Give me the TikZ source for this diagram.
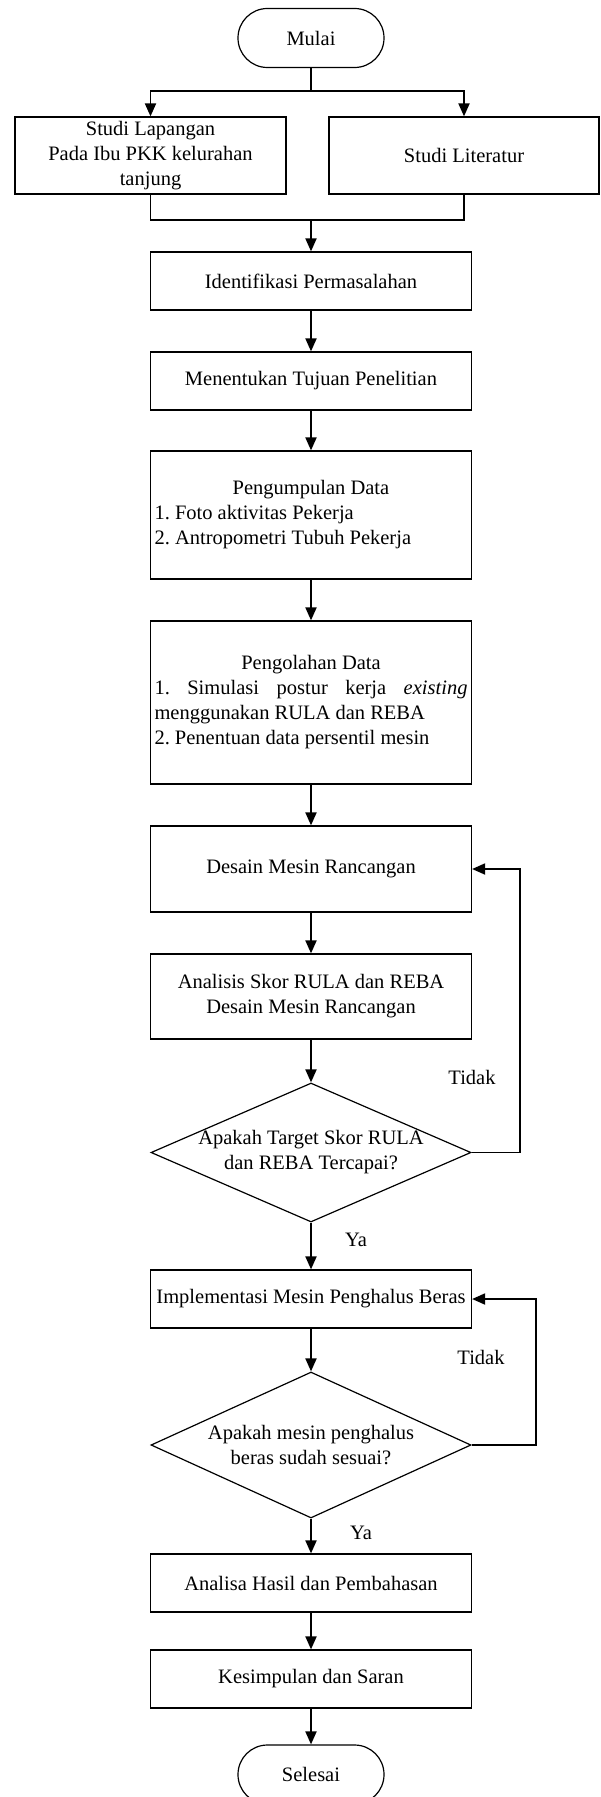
\documentclass[tikz,border=0pt]{standalone}
\usepackage{fontspec}
\setmainfont{Liberation Serif}
\usetikzlibrary{shapes.geometric,arrows.meta}
\begin{document}
\frenchspacing
\begin{tikzpicture}[x=0.5pt,y=-0.5pt,font=\fontsize{10.25}{12.5}\selectfont,
		kotak/.style={draw,line width=0.6pt,minimum width=160.5pt,minimum height=29pt,inner sep=2pt,align=center},
		ujung/.style={draw,line width=0.6pt,rounded corners=14.7pt,minimum width=73pt,minimum height=29.5pt},
		putusan/.style={draw,diamond,line width=0.6pt,minimum width=160pt,inner sep=0pt},
		garis/.style={line width=0.95pt},
		panah/.style={line width=0.95pt,-{Triangle[length=6.5pt,width=5.5pt]}}]
		\useasboundingbox(0,0)rectangle(600,1797);
		\node[ujung](mulai)at(311,38){Mulai};
		\coordinate(cab)at(311,91);
		\node[kotak,minimum width=135.5pt,minimum height=38.5pt](lap)at(150.5,155.5){Studi Lapangan\\Pada Ibu PKK kelurahan\\tanjung};
		\node[kotak,minimum width=135pt,minimum height=38.5pt](lit)at(464,155.5){Studi Literatur};
		\coordinate(gab)at(311,220);
		\node[kotak](ident)at(311,281){Identifikasi Permasalahan};
		\node[kotak](tujuan)at(311,381){Menentukan Tujuan Penelitian};
		\node[kotak,minimum height=64pt,text width=156.5pt,align=justify](kumpul)at(311,515){\makebox[\hsize]{Pengumpulan Data}\\1. Foto aktivitas Pekerja\\2. Antropometri Tubuh Pekerja};
		\node[kotak,minimum height=81.5pt,text width=156.5pt,align=justify](olah)at(311,702.5){\makebox[\hsize]{Pengolahan Data}\\1. Simulasi postur kerja \textit{existing}\linebreak menggunakan RULA dan REBA\\2. Penentuan data persentil mesin};
		\node[kotak,minimum height=43pt](desain)at(311,869){Desain Mesin Rancangan};
		\node[kotak,minimum height=42.5pt](analisis)at(311,996.5){Analisis Skor RULA dan REBA\\Desain Mesin Rancangan};
		\node[putusan,minimum height=69.5pt](cek1)at(311,1152.5){};
		\node[align=center](tanya1)at(cek1){Apakah Target Skor RULA\\dan REBA Tercapai?};
		\node[kotak](impl)at(311,1299){Implementasi Mesin Penghalus Beras};
		\node[putusan,minimum height=73pt](cek2)at(311,1445){};
		\node[align=center](tanya2)at(cek2){Apakah mesin penghalus\\beras sudah sesuai?};
		\node[kotak](hasil)at(311,1583){Analisa Hasil dan Pembahasan};
		\node[kotak](simpul)at(311,1679){Kesimpulan dan Saran};
		\node[ujung](selesai)at(311,1774.5){Selesai};
		\node(tidak1)at(472,1077){Tidak};
		\node(ya1)at(356,1240){Ya};
		\node(tidak2)at(481,1357){Tidak};
		\node(ya2)at(361,1533){Ya};
		\draw[garis](mulai)--(cab);
		\draw[panah](cab)-|(lap);
		\draw[panah](cab)-|(lit);
		\draw[garis](lap)|-(gab);
		\draw[garis](lit)|-(gab);
		\draw[panah](gab)--(ident);
		\draw[panah](ident)--(tujuan);
		\draw[panah](tujuan)--(kumpul);
		\draw[panah](kumpul)--(olah);
		\draw[panah](olah)--(desain);
		\draw[panah](desain)--(analisis);
		\draw[panah](analisis)--(cek1);
		\draw[panah](cek1.east)--++(48,0)|-(desain.east);
		\draw[panah](cek1)--(impl);
		\draw[panah](impl)--(cek2);
		\draw[panah](cek2.east)--++(64,0)|-(impl.east);
		\draw[panah](cek2)--(hasil);
		\draw[panah](hasil)--(simpul);
		\draw[panah](simpul)--(selesai);
	\end{tikzpicture}
\end{document}
